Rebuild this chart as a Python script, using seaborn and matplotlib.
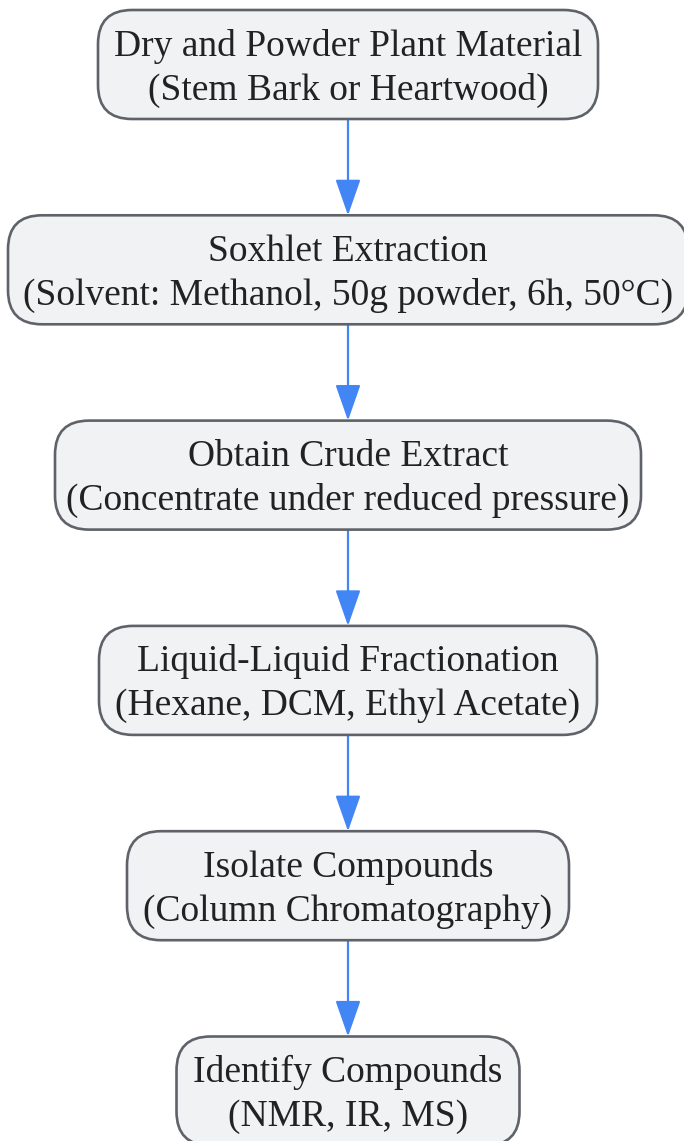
import seaborn as sns
import matplotlib.pyplot as plt
from matplotlib.patches import FancyBboxPatch, FancyArrowPatch

sns.set_theme(style="white")
plt.rcParams['font.family'] = ['Liberation Serif', 'DejaVu Serif']

titles = [
    "Dry and Powder Plant Material",
    "Soxhlet Extraction",
    "Obtain Crude Extract",
    "Liquid-Liquid Fractionation",
    "Isolate Compounds",
    "Identify Compounds",
]
details = [
    "(Stem Bark or Heartwood)",
    "(Solvent: Methanol, 50g powder, 6h, 50°C)",
    "(Concentrate under reduced pressure)",
    "(Hexane, DCM, Ethyl Acetate)",
    "(Column Chromatography)",
    "(NMR, IR, MS)",
]
# box widths in pixels (layout)
widths = [500, 680, 586, 498, 442, 343]

fill = "#f1f2f4"
edge = "#5f6268"
arrow_col = "#4285f4"
text_col = "#222222"

W, H = 684, 1141
fig = plt.figure(figsize=(W / 100, H / 100), dpi=100)
ax = fig.add_axes([0, 0, 1, 1])
ax.set_xlim(0, W)
ax.set_ylim(H, 0)
ax.axis("off")

cx = 348
box_h = 109
step = 205.3
top0 = 10

for i, (t, d, w) in enumerate(zip(titles, details, widths)):
    top = top0 + i * step
    box = FancyBboxPatch((cx - w / 2, top), w, box_h,
                         boxstyle="round,pad=0,rounding_size=34",
                         fc=fill, ec=edge, lw=1.9, zorder=2)
    ax.add_patch(box)
    ax.text(cx, top + 36, t, ha="center", va="center", fontsize=27,
            color=text_col, zorder=3)
    ax.text(cx, top + 80, d, ha="center", va="center", fontsize=27,
            color=text_col, zorder=3)
    if i < len(titles) - 1:
        arr = FancyArrowPatch((cx, top + box_h), (cx, top + step),
                              arrowstyle="-|>,head_length=0.8,head_width=0.28",
                              mutation_scale=28,
                              color=arrow_col, lw=1.6, shrinkA=0, shrinkB=0,
                              zorder=1)
        ax.add_patch(arr)

fig.savefig("out.png", dpi=100)
